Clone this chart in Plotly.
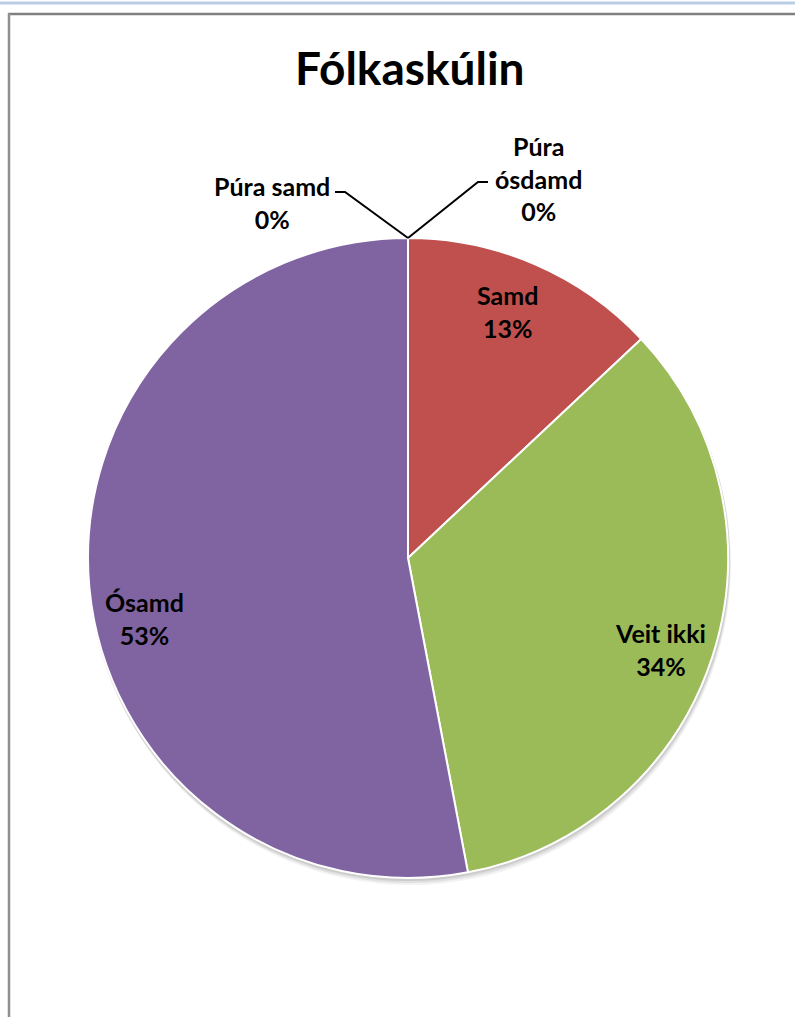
import plotly.graph_objects as go

# ---- data ----
categories = ["Púra samd", "Samd", "Veit ikki", "Ósamd", "Púra ósdamd"]
values = [0, 13, 34, 53, 0]
colors = ["#4F81BD", "#C0504D", "#9BBB59", "#8064A2", "#4BACC6"]
title_text = "Fólkaskúlin"

W, H = 795, 1017
FONT = "Lato, 'Open Sans', sans-serif"


def px(x):
    return x / W


def py(y):
    return 1 - y / H


# pie geometry (pixels)
cx, cy, r = 408, 558, 320

total = sum(values)
pct = [round(100 * v / total) for v in values]

fig = go.Figure()

# soft shadow beneath the pie
for off, a in [(6, 0.05), (4, 0.07), (2, 0.09)]:
    fig.add_trace(go.Pie(
        values=[total], labels=["shadow"], sort=False,
        marker=dict(colors=[f"rgba(0,0,0,{a})"], line=dict(width=0)),
        domain=dict(x=[px(cx - r - 1 + off / 3), px(cx + r + 1 + off / 3)],
                    y=[py(cy + r + 1 + off), py(cy - r - 1 + off)]),
        textinfo="none", hoverinfo="skip", showlegend=False,
    ))

fig.add_trace(go.Pie(
    labels=categories, values=values, sort=False, direction="clockwise",
    rotation=0,
    marker=dict(colors=colors, line=dict(color="white", width=2)),
    domain=dict(x=[px(cx - r), px(cx + r)], y=[py(cy + r), py(cy - r)]),
    textinfo="none", showlegend=False,
))

# label positions (pixel centres)
label_pos = {
    "Púra samd": (272, 203, "{}<br>{}%"),
    "Samd": (507, 311, "{}<br>{}%"),
    "Veit ikki": (660, 649, "{}<br>{}%"),
    "Ósamd": (144, 618, "{}<br>{}%"),
    "Púra ósdamd": (538, 178, "Púra<br>ósdamd<br>{1}%"),
}
annotations = []
for cat, p in zip(categories, pct):
    x, y, fmt = label_pos[cat]
    annotations.append(dict(
        x=px(x), y=py(y), xref="paper", yref="paper",
        text="<b>" + fmt.format(cat, p) + "</b>", showarrow=False,
        font=dict(family=FONT, size=25, color="black"),
        xanchor="center", yanchor="middle", align="center",
    ))

annotations.append(dict(
    x=px(410), y=py(68), xref="paper", yref="paper",
    text="<b>" + title_text + "</b>", showarrow=False,
    font=dict(family=FONT, size=46, color="black"),
    xanchor="center", yanchor="middle",
))


def path(points):
    return "M " + " L ".join(f"{px(x)},{py(y)}" for x, y in points)


shapes = [
    # top blue strip
    dict(type="line", xref="paper", yref="paper", x0=0, x1=1, y0=py(3), y1=py(3),
         line=dict(color="#B9CDE5", width=3)),
    # chart border (gray): top and left edges
    dict(type="line", xref="paper", yref="paper", x0=px(8), x1=1, y0=py(14), y1=py(14),
         line=dict(color="#808080", width=2.5)),
    dict(type="line", xref="paper", yref="paper", x0=px(9), x1=px(9), y0=0, y1=py(13),
         line=dict(color="#909090", width=2.5)),
    # leader lines
    dict(type="path", xref="paper", yref="paper",
         path=path([(335, 192), (345, 192), (cx, cy - r)]),
         line=dict(color="black", width=2)),
    dict(type="path", xref="paper", yref="paper",
         path=path([(cx, cy - r), (478, 182), (488, 182)]),
         line=dict(color="black", width=2)),
]

fig.update_layout(
    width=W, height=H,
    margin=dict(l=0, r=0, t=0, b=0),
    paper_bgcolor="white", plot_bgcolor="white",
    annotations=annotations, shapes=shapes,
    showlegend=False,
)

fig.write_html("out.html",
               config={"displayModeBar": False},
               post_script="document.body.style.margin='0';"
                           "document.body.style.overflow='hidden';")
